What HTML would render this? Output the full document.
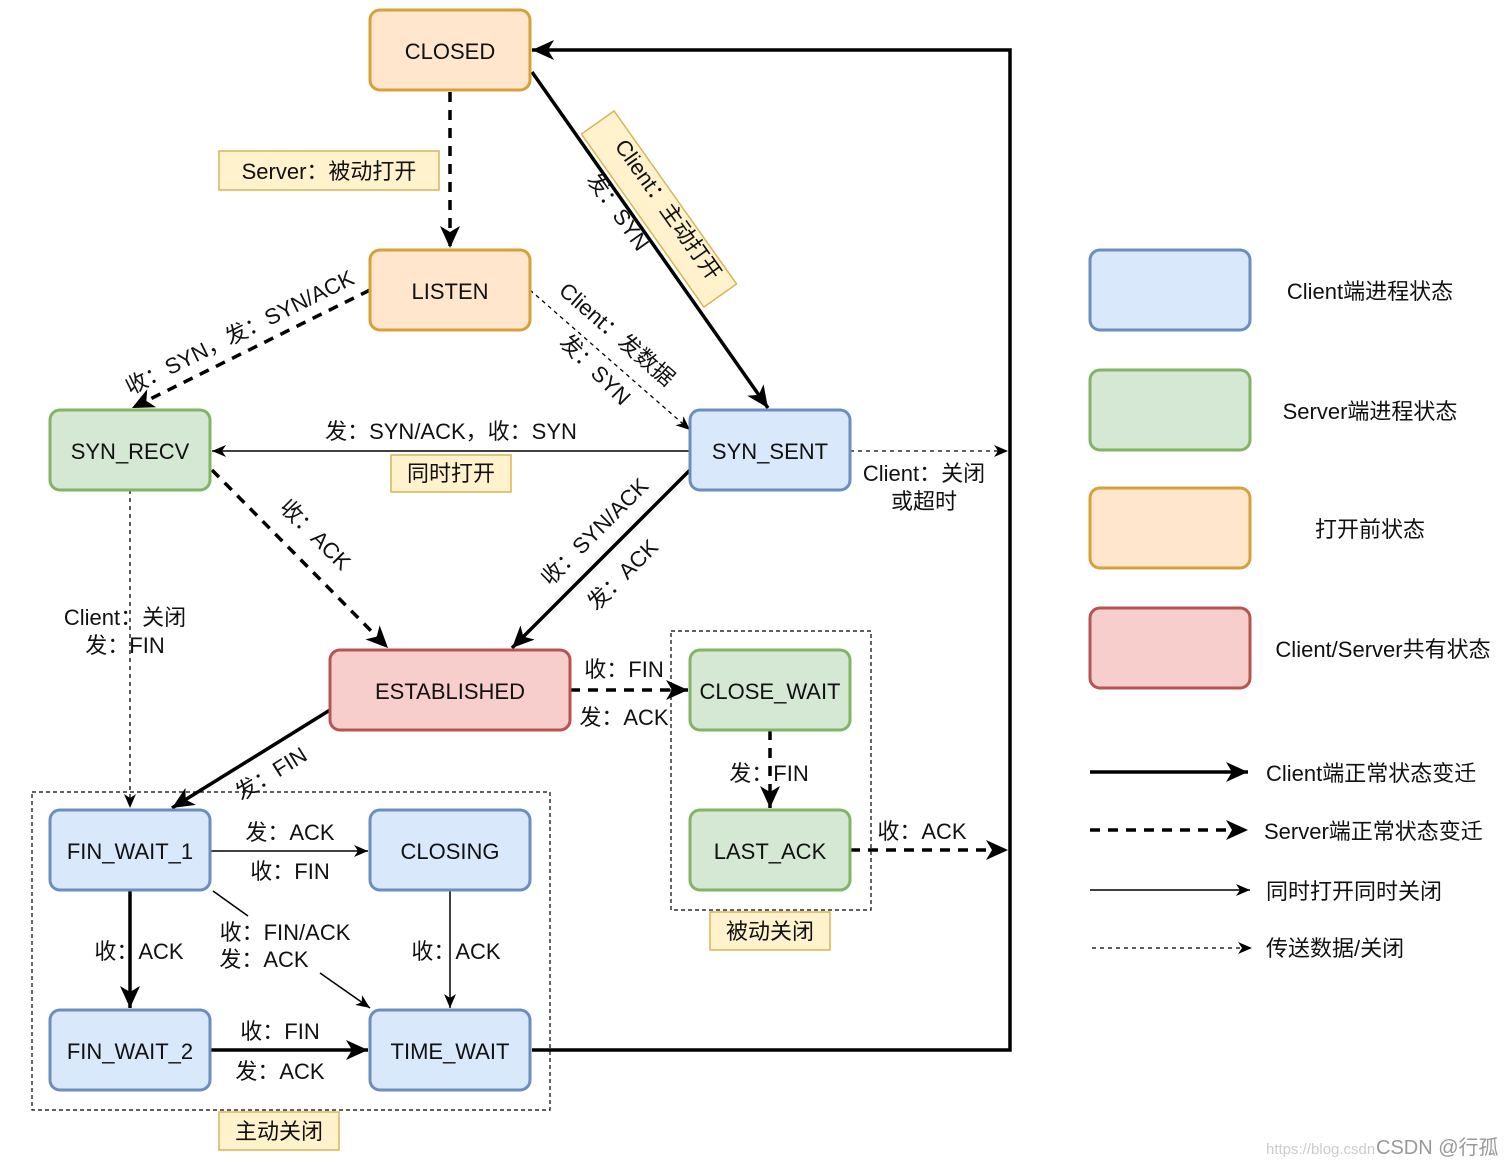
<!DOCTYPE html>
<html><head><meta charset="utf-8">
<style>
html,body{margin:0;padding:0;background:#fff;}
svg{display:block;font-family:"Liberation Sans","Noto Sans CJK SC",sans-serif;}
text{font-size:22px;fill:#111;}
</style></head>
<body>
<svg width="1510" height="1166" viewBox="0 0 1510 1166" xmlns="http://www.w3.org/2000/svg">
<defs>
<marker id="ak" markerUnits="userSpaceOnUse" markerWidth="24" markerHeight="22" refX="22" refY="10" orient="auto">
<path d="M0,0 L22,10 L0,20 L6,10 z" fill="#000"/></marker>
<marker id="an" markerUnits="userSpaceOnUse" markerWidth="16" markerHeight="14" refX="14" refY="6" orient="auto">
<path d="M0,0 L14,6 L0,12 L4,6 z" fill="#000"/></marker>
</defs>

<rect x="32" y="792" width="518" height="318" fill="none" stroke="#000" stroke-width="1.2" stroke-dasharray="4,3"/>
<rect x="671" y="631" width="200" height="279" fill="none" stroke="#000" stroke-width="1.2" stroke-dasharray="4,3"/>

<g fill="none" stroke="#000">
<line x1="450" y1="92" x2="450" y2="248" stroke-width="3.5" stroke-dasharray="10,8" marker-end="url(#ak)"/>
<line x1="532" y1="72" x2="768" y2="408" stroke-width="3.5" marker-end="url(#ak)"/>
<polyline points="532,1050 1010,1050 1010,50 532,50" stroke-width="3.5" marker-end="url(#ak)"/>
<line x1="370" y1="290" x2="132" y2="408" stroke-width="3.5" stroke-dasharray="10,8" marker-end="url(#ak)"/>
<line x1="530" y1="290" x2="690" y2="430" stroke-width="1.3" stroke-dasharray="4,4" marker-end="url(#an)"/>
<line x1="690" y1="451" x2="212" y2="451" stroke-width="1.5" marker-end="url(#an)"/>
<line x1="850" y1="451" x2="1008" y2="451" stroke-width="1.3" stroke-dasharray="4,4" marker-end="url(#an)"/>
<line x1="212" y1="470" x2="388" y2="648" stroke-width="3.5" stroke-dasharray="10,8" marker-end="url(#ak)"/>
<line x1="690" y1="470" x2="512" y2="648" stroke-width="3.5" marker-end="url(#ak)"/>
<line x1="130" y1="490" x2="130" y2="808" stroke-width="1.3" stroke-dasharray="4,4" marker-end="url(#an)"/>
<line x1="570" y1="690" x2="688" y2="690" stroke-width="3.5" stroke-dasharray="10,8" marker-end="url(#ak)"/>
<line x1="330" y1="710" x2="172" y2="808" stroke-width="3.5" marker-end="url(#ak)"/>
<line x1="770" y1="730" x2="770" y2="808" stroke-width="3.5" stroke-dasharray="10,8" marker-end="url(#ak)"/>
<line x1="850" y1="850" x2="1008" y2="850" stroke-width="3.5" stroke-dasharray="10,8" marker-end="url(#ak)"/>
<line x1="210" y1="851" x2="368" y2="851" stroke-width="1.5" marker-end="url(#an)"/>
<line x1="130" y1="890" x2="130" y2="1008" stroke-width="3.5" marker-end="url(#ak)"/>
<line x1="213" y1="891" x2="248" y2="916" stroke-width="1.5"/>
<line x1="320" y1="973" x2="370" y2="1008" stroke-width="1.5" marker-end="url(#an)"/>
<line x1="450" y1="890" x2="450" y2="1008" stroke-width="1.5" marker-end="url(#an)"/>
<line x1="210" y1="1050" x2="368" y2="1050" stroke-width="3.5" marker-end="url(#ak)"/>
<line x1="1090" y1="772" x2="1248" y2="772" stroke-width="3.5" marker-end="url(#ak)"/>
<line x1="1090" y1="830" x2="1248" y2="830" stroke-width="3.5" stroke-dasharray="10,8" marker-end="url(#ak)"/>
<line x1="1090" y1="890" x2="1250" y2="890" stroke-width="1.5" marker-end="url(#an)"/>
<line x1="1092" y1="948" x2="1252" y2="948" stroke-width="1.3" stroke-dasharray="4,4" marker-end="url(#an)"/>
</g>

<g stroke-width="3">
<rect x="370" y="10" width="160" height="80" rx="10" fill="#ffe6cc" stroke="#d6a03a"/>
<rect x="370" y="250" width="160" height="80" rx="10" fill="#ffe6cc" stroke="#d6a03a"/>
<rect x="50" y="410" width="160" height="80" rx="10" fill="#d5e8d4" stroke="#82b366"/>
<rect x="690" y="410" width="160" height="80" rx="10" fill="#dae8fc" stroke="#6c8ebf"/>
<rect x="330" y="650" width="240" height="80" rx="10" fill="#f8cecc" stroke="#b85450"/>
<rect x="690" y="650" width="160" height="80" rx="10" fill="#d5e8d4" stroke="#82b366"/>
<rect x="50" y="810" width="160" height="80" rx="10" fill="#dae8fc" stroke="#6c8ebf"/>
<rect x="370" y="810" width="160" height="80" rx="10" fill="#dae8fc" stroke="#6c8ebf"/>
<rect x="690" y="810" width="160" height="80" rx="10" fill="#d5e8d4" stroke="#82b366"/>
<rect x="50" y="1010" width="160" height="80" rx="10" fill="#dae8fc" stroke="#6c8ebf"/>
<rect x="370" y="1010" width="160" height="80" rx="10" fill="#dae8fc" stroke="#6c8ebf"/>
<rect x="1090" y="250" width="160" height="80" rx="10" fill="#dae8fc" stroke="#6c8ebf"/>
<rect x="1090" y="370" width="160" height="80" rx="10" fill="#d5e8d4" stroke="#82b366"/>
<rect x="1090" y="488" width="160" height="80" rx="10" fill="#ffe6cc" stroke="#d6a03a"/>
<rect x="1090" y="608" width="160" height="80" rx="10" fill="#f8cecc" stroke="#b85450"/>
</g>
<g text-anchor="middle">
<text x="450" y="59">CLOSED</text>
<text x="450" y="299">LISTEN</text>
<text x="130" y="459">SYN_RECV</text>
<text x="770" y="459">SYN_SENT</text>
<text x="450" y="699">ESTABLISHED</text>
<text x="770" y="699">CLOSE_WAIT</text>
<text x="130" y="859">FIN_WAIT_1</text>
<text x="450" y="859">CLOSING</text>
<text x="770" y="859">LAST_ACK</text>
<text x="130" y="1059">FIN_WAIT_2</text>
<text x="450" y="1059">TIME_WAIT</text>
<text x="1370" y="299">Client端进程状态</text>
<text x="1370" y="419">Server端进程状态</text>
<text x="1370" y="537">打开前状态</text>
<text x="1383" y="657">Client/Server共有状态</text>
</g>
<g>
<text x="1266" y="781">Client端正常状态变迁</text>
<text x="1264" y="839">Server端正常状态变迁</text>
<text x="1266" y="899">同时打开同时关闭</text>
<text x="1266" y="956">传送数据/关闭</text>
</g>

<g fill="#fff2cc" stroke="#d6b656" stroke-width="1.5">
<rect x="219" y="151" width="220" height="39"/>
<rect x="391" y="455" width="120" height="37"/>
<rect x="710" y="912" width="120" height="38"/>
<rect x="219" y="1112" width="120" height="38"/>
<rect x="-106" y="-20" width="212" height="40" transform="translate(659,209) rotate(54.7)"/>
</g>
<g text-anchor="middle">
<text x="329" y="179">Server：被动打开</text>
<text x="451" y="481">同时打开</text>
<text x="770" y="939">被动关闭</text>
<text x="279" y="1139">主动关闭</text>
<text transform="translate(662,214) rotate(54.7)">Client：主动打开</text>
<text transform="translate(612,216) rotate(54.7)">发：SYN</text>
<text transform="translate(612,340) rotate(41)">Client：发数据</text>
<text transform="translate(590,375) rotate(45)">发：SYN</text>
<text transform="translate(243,339) rotate(-26.4)">收：SYN，发：SYN/ACK</text>
<text x="451" y="439">发：SYN/ACK，收：SYN</text>
<text x="924" y="481">Client：关闭</text>
<text x="924" y="509">或超时</text>
<text transform="translate(310,540) rotate(45)">收：ACK</text>
<text transform="translate(600,537) rotate(-45)">收：SYN/ACK</text>
<text transform="translate(628,580) rotate(-45)">发：ACK</text>
<text x="125" y="625">Client：关闭</text>
<text x="125" y="653">发：FIN</text>
<text transform="translate(275,780) rotate(-32)">发：FIN</text>
<text x="624" y="677">收：FIN</text>
<text x="624" y="725">发：ACK</text>
<text x="769" y="781">发：FIN</text>
<text x="922" y="839">收：ACK</text>
<text x="290" y="840">发：ACK</text>
<text x="290" y="879">收：FIN</text>
<text x="139" y="959">收：ACK</text>
<text x="285" y="940">收：FIN/ACK</text>
<text x="264" y="967">发：ACK</text>
<text x="456" y="959">收：ACK</text>
<text x="280" y="1039">收：FIN</text>
<text x="280" y="1079">发：ACK</text>
</g>
<text x="1266" y="1154" style="font-size:15px;fill:#ccc">https://blog.csdn</text>
<text x="1376" y="1154" style="font-size:20px;fill:#999">CSDN @行孤</text>
</svg>
</body></html>
